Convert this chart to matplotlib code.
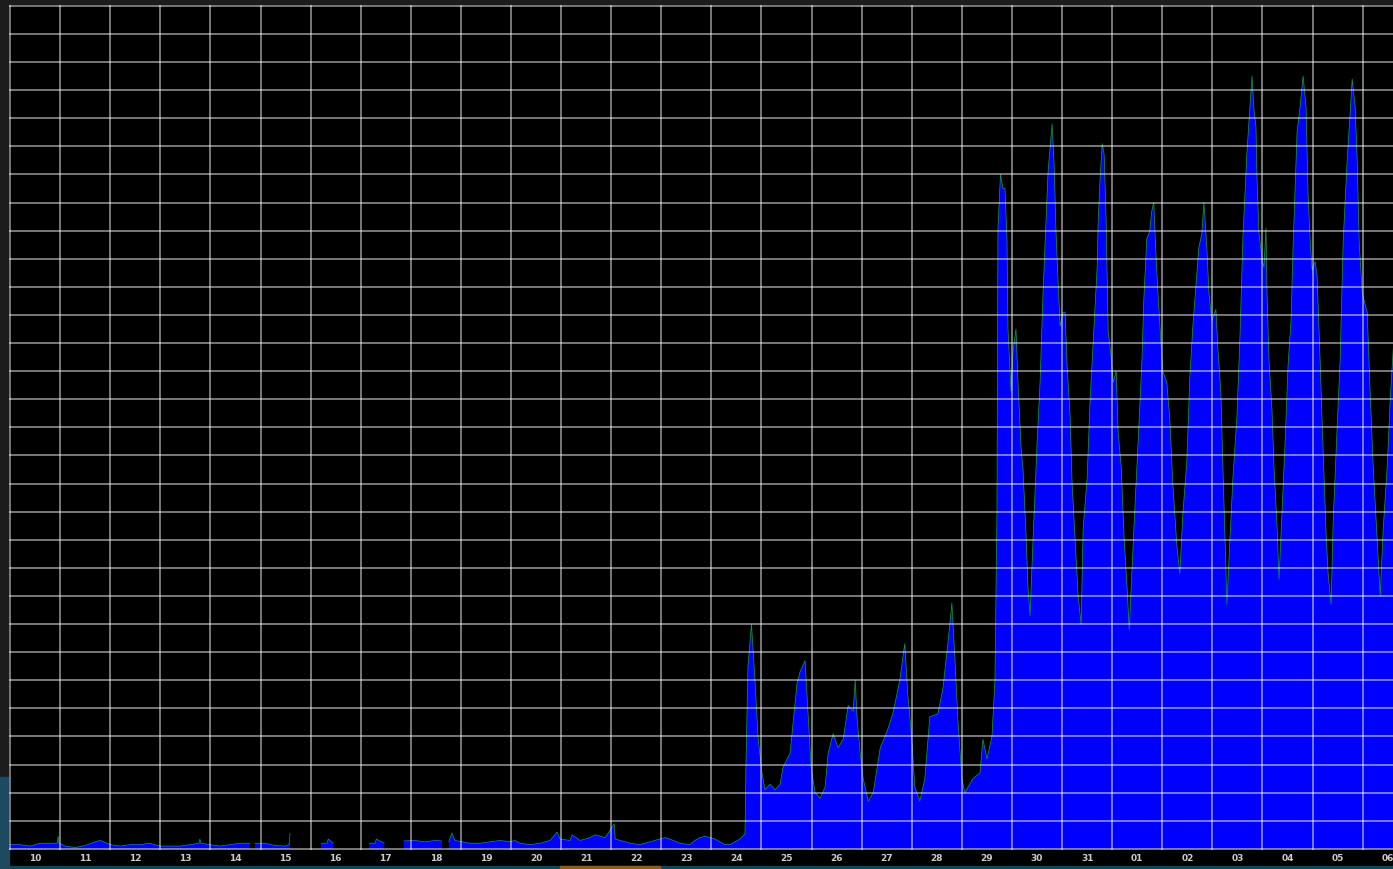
import numpy as np
import matplotlib.pyplot as plt
from matplotlib.patches import Rectangle

# Tick labels (day of month), one per day column
dias = ["10", "11", "12", "13", "14", "15", "16", "17", "18", "19", "20", "21",
        "22", "23", "24", "25", "26", "27", "28", "29", "30", "31", "01", "02",
        "03", "04", "05", "06"]

nan = np.nan

# Tramo bajo (dias 10-24): tiempo en dias desde el inicio del dia 10
t_bajo = [0.00, 0.20, 0.40, 0.60, 0.80, 0.94, 0.96, 0.98, 1.10, 1.30, 1.50, 1.70,
          1.80, 2.00, 2.20, 2.40, 2.59, 2.79, 2.99, 3.19, 3.39, 3.59, 3.77, 3.79,
          3.81, 3.99, 4.19, 4.39, 4.59, 4.79, 4.85, 4.89, 5.09, 5.29, 5.49, 5.57,
          5.59, 5.61,
          6.21, 6.33, 6.35, 6.45, 6.47,
          7.17, 7.29, 7.31, 7.47, 7.49,
          7.86, 8.08, 8.28, 8.48, 8.62, 8.64,
          8.76, 8.82, 8.88, 9.18, 9.38, 9.58, 9.78, 9.98, 10.08, 10.18, 10.38,
          10.58, 10.78, 10.92, 10.98, 11.18, 11.22, 11.38, 11.58, 11.68, 11.78,
          11.88, 12.06, 12.08, 12.18, 12.38, 12.57, 12.77, 12.97, 13.07, 13.17,
          13.37, 13.57, 13.67, 13.77, 13.87, 13.97, 14.07, 14.17, 14.27, 14.37,
          14.47, 14.57, 14.65]
v_bajo = [0.15, 0.15, 0.10, 0.20, 0.20, 0.20, 0.45, 0.20, 0.10, 0.05, 0.12, 0.25,
          0.30, 0.15, 0.10, 0.15, 0.15, 0.20, 0.10, 0.10, 0.10, 0.15, 0.20, 0.35,
          0.20, 0.15, 0.10, 0.15, 0.20, 0.20, nan, 0.20, 0.20, 0.12, 0.10, 0.15,
          0.55, nan,
          0.20, 0.20, 0.35, 0.20, nan,
          0.20, 0.20, 0.35, 0.20, nan,
          0.28, 0.30, 0.25, 0.30, 0.28, nan,
          0.25, 0.57, 0.30, 0.20, 0.20, 0.25, 0.30, 0.25, 0.30, 0.20, 0.15,
          0.20, 0.30, 0.60, 0.35, 0.30, 0.50, 0.30, 0.40, 0.50, 0.45,
          0.40, 0.89, 0.35, 0.30, 0.20, 0.15, 0.25, 0.35, 0.40, 0.35,
          0.20, 0.15, 0.30, 0.40, 0.45, 0.40, 0.35, 0.25, 0.15, 0.15,
          0.25, 0.35, 0.50]

# Tramo medio (dias 24-29)
t_medio = [14.67, 14.69, 14.73, 14.80, 14.87, 14.93, 15.01, 15.07, 15.17, 15.27,
           15.37, 15.43, 15.57, 15.71, 15.77, 15.87, 15.93, 15.99, 16.07, 16.17,
           16.27, 16.33, 16.43, 16.53, 16.63, 16.73, 16.83, 16.87, 16.91, 16.97,
           17.03, 17.13, 17.23, 17.37, 17.51, 17.62, 17.76, 17.82, 17.86, 17.92,
           18.00, 18.06, 18.16, 18.26, 18.36, 18.52, 18.62, 18.72, 18.80, 18.86,
           18.92, 19.00, 19.06, 19.22, 19.36, 19.42, 19.50, 19.60, 19.66, 19.70]
v_medio = [0.5, 3.0, 6.5, 8.0, 6.0, 4.0, 2.7, 2.1, 2.3, 2.1,
           2.3, 2.9, 3.4, 5.9, 6.3, 6.7, 4.8, 2.9, 2.0, 1.8,
           2.2, 3.4, 4.1, 3.6, 3.9, 5.1, 4.9, 6.0, 4.6, 3.4,
           2.5, 1.7, 2.0, 3.6, 4.2, 4.8, 6.0, 6.8, 7.3, 5.5,
           3.9, 2.2, 1.7, 2.5, 4.7, 4.8, 5.7, 7.3, 8.75, 6.8,
           4.6, 2.5, 2.0, 2.5, 2.7, 3.9, 3.2, 4.0, 6.0, 12.0]

# Tramo alto (dia 29 en adelante)
t_alto = [19.72, 19.77, 19.82, 19.86, 19.90, 19.92, 19.98, 20.02, 20.08, 20.12,
          20.18, 20.22, 20.28, 20.32, 20.36, 20.42, 20.50, 20.56, 20.62, 20.72,
          20.80, 20.84, 20.88, 20.92, 20.96, 21.02, 21.06, 21.10, 21.16, 21.20,
          21.26, 21.32, 21.38, 21.42, 21.50, 21.56, 21.62, 21.70, 21.72, 21.76,
          21.80, 21.84, 21.88, 21.92, 21.98, 22.02, 22.08, 22.12, 22.18, 22.24,
          22.30, 22.34, 22.40, 22.46, 22.51, 22.59, 22.63, 22.69, 22.75, 22.79,
          22.83, 22.87, 22.91, 22.97, 23.01, 23.09, 23.15, 23.21, 23.29, 23.35,
          23.41, 23.49, 23.55, 23.61, 23.67, 23.73, 23.79, 23.83, 23.89, 23.93,
          23.99, 24.07, 24.11, 24.17, 24.21, 24.25, 24.29, 24.35, 24.41, 24.49,
          24.55, 24.61, 24.69, 24.73, 24.79, 24.83, 24.87, 24.89, 24.93, 24.99,
          25.03, 25.07, 25.09, 25.13, 25.19, 25.23, 25.29, 25.33, 25.39, 25.45,
          25.51, 25.57, 25.61, 25.69, 25.75, 25.81, 25.87, 25.91, 25.95, 25.99,
          26.05, 26.09, 26.15, 26.21, 26.27, 26.31, 26.37, 26.41, 26.49, 26.55,
          26.61, 26.69, 26.75, 26.79, 26.85, 26.89, 26.93, 26.99, 27.03, 27.09,
          27.15, 27.21, 27.29, 27.35, 27.41, 27.49, 27.55, 27.61, 27.67]
v_alto = [22.1, 24.0, 23.5, 23.5, 21.7, 18.5, 16.3, 17.7, 18.5, 16.6,
          14.3, 13.5, 11.2, 9.3, 8.3, 11.0, 14.4, 16.6, 19.8, 24.1,
          25.8, 24.4, 21.9, 20.2, 18.6, 19.1, 19.1, 17.2, 15.4, 13.0,
          11.0, 9.0, 8.0, 11.4, 13.2, 16.0, 18.0, 20.7, 22.3, 23.9,
          25.1, 24.7, 22.3, 18.4, 17.5, 16.6, 17.0, 14.8, 13.6, 11.0,
          9.2, 7.8, 10.1, 12.4, 14.2, 17.2, 19.5, 21.7, 22.0, 22.7,
          23.0, 21.3, 19.9, 18.1, 17.0, 16.6, 15.3, 13.0, 10.8, 9.8,
          11.9, 13.8, 16.8, 18.6, 20.0, 21.4, 21.9, 23.0, 21.4, 19.8,
          18.8, 19.2, 17.8, 16.2, 13.6, 11.2, 8.7, 11.0, 13.2, 15.4,
          18.2, 21.8, 24.8, 25.9, 27.5, 26.3, 25.7, 23.9, 21.9, 21.0,
          20.7, 22.1, 19.8, 17.4, 15.6, 13.6, 11.5, 9.6, 12.0, 14.4,
          17.2, 18.8, 21.4, 25.5, 26.4, 27.5, 26.4, 23.3, 21.7, 20.6,
          20.9, 20.4, 17.4, 14.2, 11.2, 9.8, 8.7, 11.6, 15.0, 17.4,
          21.6, 24.5, 26.2, 27.4, 26.4, 24.5, 21.6, 19.8, 19.5, 19.1,
          16.2, 13.6, 11.0, 9.0, 11.4, 13.6, 16.0, 17.8, 19.0]

t = np.array(t_bajo + t_medio + t_alto)
v = np.array(v_bajo + v_medio + v_alto)

W, H = 1393, 869
fig = plt.figure(figsize=(W / 100, H / 100), dpi=100, facecolor='#1c1c1c')

# franja negra de etiquetas y restos del escritorio (detras de los ejes)
fig.patches.append(Rectangle((8.5 / W, 3 / H), 1 - 8.5 / W, 17 / H,
                             transform=fig.transFigure, color='black', zorder=-1))
fig.patches.append(Rectangle((0, 0), 1, 3 / H, transform=fig.transFigure,
                             color='#0d4658', zorder=-1))
fig.patches.append(Rectangle((560 / W, 0), 100 / W, 3 / H, transform=fig.transFigure,
                             color='#8a5a20', zorder=-1))
fig.patches.append(Rectangle((0, 0), 8.5 / W, 92 / H, transform=fig.transFigure,
                             color='#1d4a60', zorder=-1))

ax = fig.add_axes([8.5 / W, 19 / H, 1 - 8.5 / W, 845 / H])
ax.set_facecolor('black')

ax.fill_between(t, 0, v, color='#0000ff', linewidth=0)
ax.plot(t, v, color='#12a030', linewidth=0.5)

ax.set_xlim(-0.03, 27.605)
ax.set_ylim(-0.04, 30.03)

ax.set_xticks(np.arange(0, 28))
ax.set_xticks(np.arange(len(dias)) + 0.5, minor=True)
ax.set_xticklabels([], minor=False)
ax.set_xticklabels(dias, minor=True)
ax.set_yticks(np.arange(0, 31))
ax.set_yticklabels([])
ax.tick_params(which='both', length=0)
ax.tick_params(axis='x', which='minor', pad=3, labelsize=6.5, labelcolor='#cccccc')
for lab in ax.get_xticklabels(minor=True):
    lab.set_fontweight('bold')

ax.set_axisbelow(False)
ax.grid(True, which='major', color='white', alpha=0.6, linewidth=1.1)
for s in ax.spines.values():
    s.set_visible(False)

plt.savefig('out.png', dpi=100, facecolor=fig.get_facecolor())
